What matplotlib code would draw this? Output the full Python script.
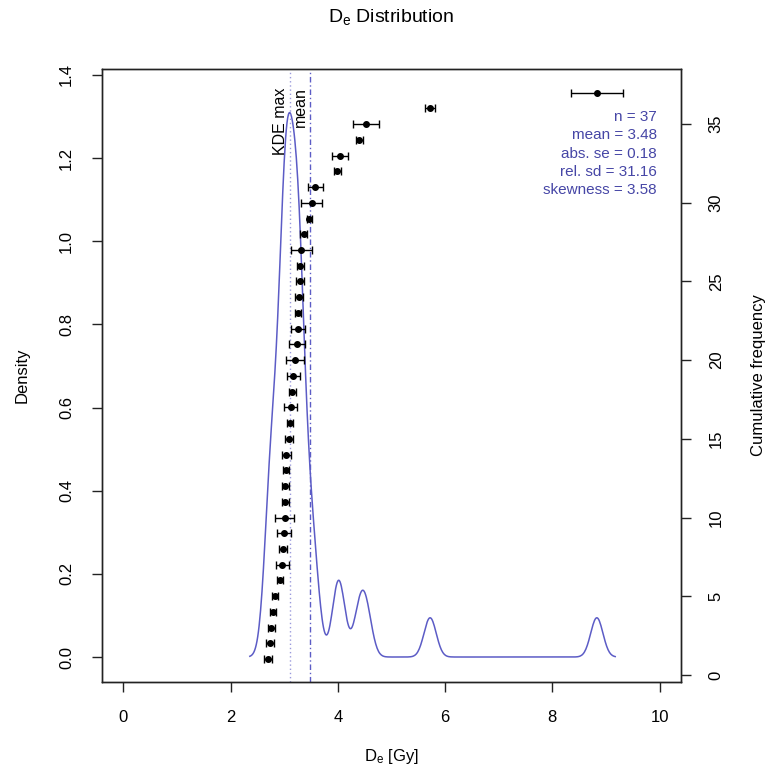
import numpy as np
import matplotlib.pyplot as plt

plt.rcParams['font.family'] = ['Liberation Sans', 'DejaVu Sans']

# equivalent doses (sorted) and their standard errors
de = [2.70, 2.73, 2.76, 2.79, 2.83, 2.92, 2.96, 2.98, 3.00, 3.01,
      3.02, 3.02, 3.03, 3.04, 3.09, 3.11, 3.12, 3.15, 3.17, 3.20,
      3.23, 3.25, 3.26, 3.27, 3.29, 3.30, 3.32, 3.36, 3.47, 3.51,
      3.58, 3.99, 4.04, 4.40, 4.53, 5.72, 8.83]
de_err = [0.08, 0.07, 0.07, 0.06, 0.06, 0.05, 0.12, 0.07, 0.13, 0.18,
          0.07, 0.06, 0.05, 0.08, 0.08, 0.06, 0.12, 0.07, 0.12, 0.17,
          0.15, 0.13, 0.06, 0.07, 0.07, 0.06, 0.19, 0.07, 0.05, 0.20,
          0.14, 0.06, 0.15, 0.07, 0.24, 0.09, 0.48]
cum_freq = np.arange(1, len(de) + 1)

stat_names = ['n', 'mean', 'abs. se', 'rel. sd', 'skewness']
stat_values = ['37', '3.48', '0.18', '31.16', '3.58']
mean_de = 3.48

line_col = '#5C5CC6'
text_col = '#4646A6'


def kde_nrd0(x):
    # gaussian KDE with R's default (nrd0) bandwidth and cut = 3
    x = np.asarray(x)
    n = len(x)
    q75, q25 = np.percentile(x, [75, 25])
    bw = 0.9 * min(np.std(x, ddof=1), (q75 - q25) / 1.34) * n ** -0.2
    grid = np.linspace(x.min() - 3 * bw, x.max() + 3 * bw, 512)
    z = (grid[:, None] - x[None, :]) / bw
    dens = np.exp(-0.5 * z ** 2).sum(axis=1) / (n * bw * np.sqrt(2 * np.pi))
    return grid, dens


grid, dens = kde_nrd0(de)
kde_max = grid[np.argmax(dens)]

fig = plt.figure(figsize=(7.71, 7.76), dpi=100)
ax = fig.add_axes([102 / 771, 1 - 682 / 776, 579 / 771, 613 / 776])
ax2 = ax.twinx()

ax.plot(grid, dens, color=line_col, lw=1.1)
ax.axvline(kde_max, color='#9A9ADC', lw=1.0, ls=(0, (1, 2)))
ax.axvline(mean_de, color=line_col, lw=1.0, ls=(0, (4, 2, 1, 2)))
ax.text(kde_max - 0.04, 1.37, 'KDE max', rotation=90, ha='right', va='top', fontsize=11.5)
ax.text(mean_de - 0.04, 1.37, 'mean', rotation=90, ha='right', va='top', fontsize=11.5)

ax2.errorbar(de, cum_freq, xerr=de_err, fmt='o', color='black', ms=4,
             capsize=3, elinewidth=1.0, capthick=1.0)

for i, (name, val) in enumerate(zip(stat_names, stat_values)):
    ax.text(0.9585, 0.9217 - i * 0.0299, f'{name} = {val}', transform=ax.transAxes,
            ha='right', va='center', fontsize=11, color=text_col)

ax.set_xlim(-0.4, 10.4)
ax.set_ylim(-0.0601, 1.4144)
ax2.set_ylim(-0.45, 38.5)
ax.set_xticks(np.arange(0, 11, 2))
ax.set_yticks(np.arange(0, 1.41, 0.2))
ax.set_yticklabels([f'{v:.1f}' for v in np.arange(0, 1.41, 0.2)])
ax2.set_yticks(np.arange(0, 36, 5))

for a in (ax, ax2):
    for s in a.spines.values():
        s.set_linewidth(1.0)
        s.set_color('#222222')
ax.tick_params(axis='both', direction='out', length=7, width=1.0, pad=13,
               labelsize=12, color='#222222')
ax.tick_params(axis='y', labelrotation=90)
ax2.tick_params(axis='y', direction='out', length=7, width=1.0, pad=13,
                labelsize=12, labelrotation=90, color='#222222')
for lab in ax.get_yticklabels() + ax2.get_yticklabels():
    lab.set_va('center')

ax.set_xlabel(r'$\mathregular{D_e}$ [Gy]', fontsize=12)
ax.xaxis.set_label_coords(0.5, -0.1223)
ax.xaxis.label.set_va('center')
ax.set_ylabel('Density', fontsize=12)
ax.yaxis.set_label_coords(-0.138, 0.5)
ax.yaxis.label.set_va('center')
ax2.set_ylabel('Cumulative frequency', fontsize=12)
ax2.yaxis.set_label_coords(1.134, 0.5)
ax2.yaxis.label.set_va('center')

ax.set_title(r'$\mathregular{D_e}$ Distribution', fontsize=14, y=1.085, va='center', pad=0)

fig.savefig('out.png', dpi=100)
